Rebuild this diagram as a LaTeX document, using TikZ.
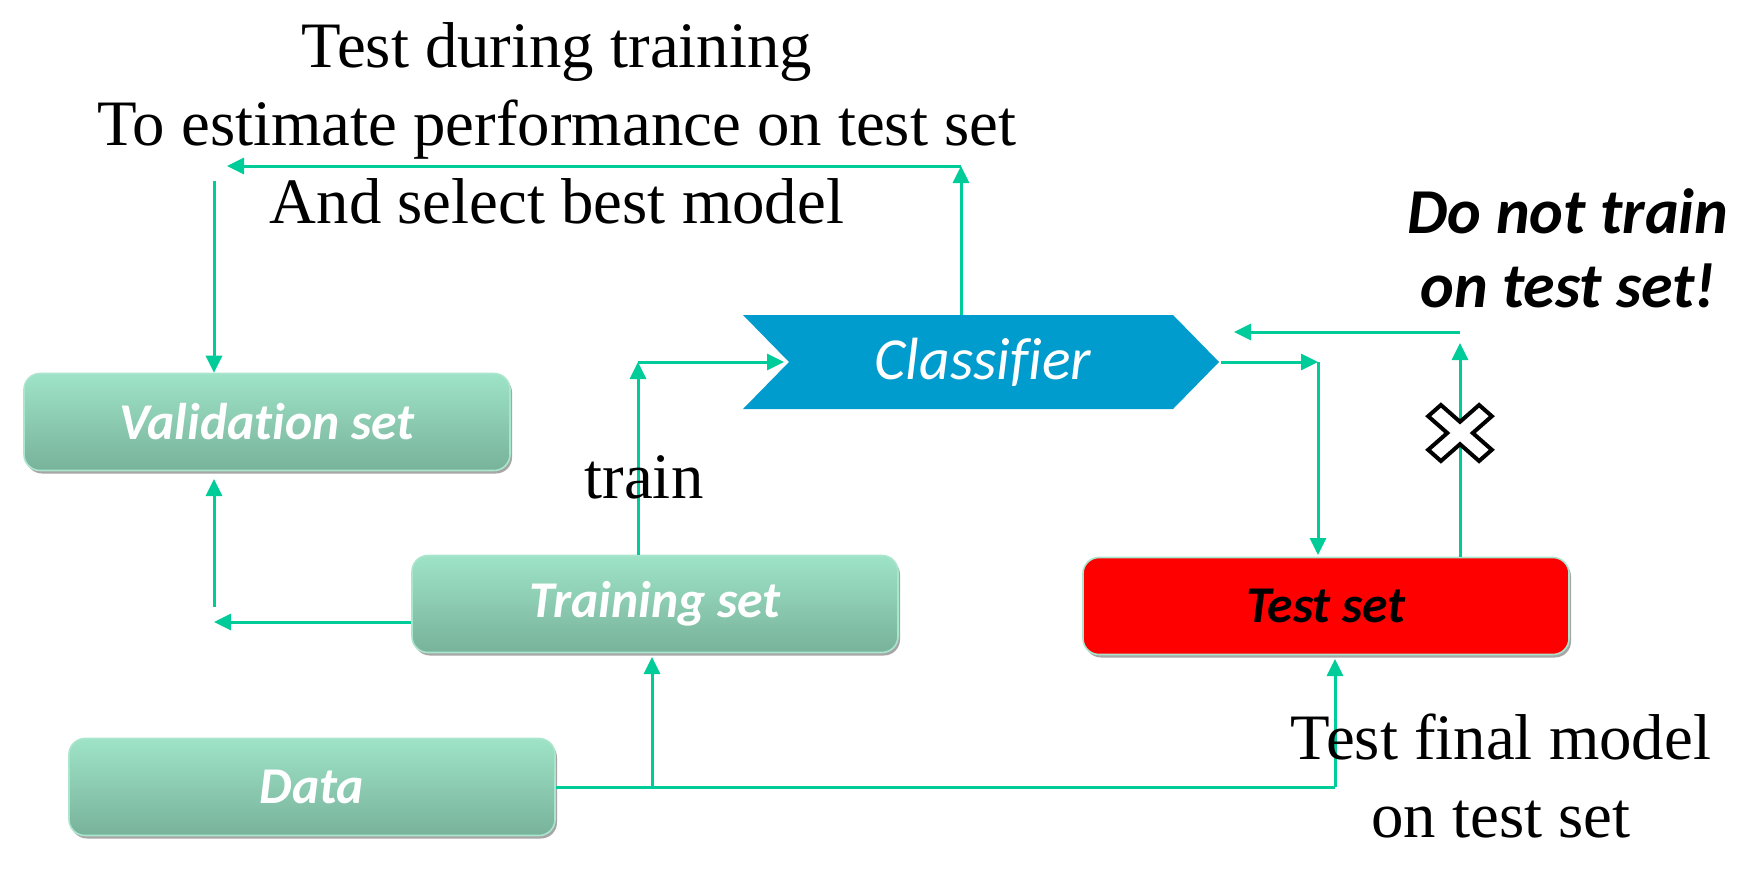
\documentclass[tikz,border=0pt]{standalone}
\usepackage{fontspec}
\setmainfont{Liberation Serif}
\newfontfamily\carlito[Ligatures=NoCommon]{Carlito}
\usetikzlibrary{arrows.meta,shadows}
\definecolor{arrowc}{RGB}{0,204,153}
\definecolor{minttop}{RGB}{158,227,199}
\definecolor{mintbot}{RGB}{120,178,155}
\definecolor{mintedge}{RGB}{170,230,205}
\definecolor{clsblue}{RGB}{0,156,206}
\tikzset{
  arr/.style={draw=arrowc, line width=1.5pt, -{Triangle[length=8.5pt,width=8pt]}},
  ln/.style={draw=arrowc, line width=1.5pt},
  setbox/.style={rounded corners=8pt, minimum width=243pt, minimum height=48.5pt, inner sep=0pt,
    draw=mintedge, line width=0.8pt,
    drop shadow={shadow xshift=1pt, shadow yshift=-1.5pt, opacity=0.35, fill=black},
    font=\carlito\bfseries\itshape\fontsize{25.8}{30}\selectfont, text=white},
  mint/.style={top color=minttop, bottom color=mintbot},
  bigtext/.style={font=\fontsize{32.4}{39}\selectfont, align=center, inner sep=0pt},
  warntext/.style={font=\carlito\bfseries\itshape\fontsize{32}{37}\selectfont, align=center, inner sep=0pt},
}
\begin{document}
\begin{tikzpicture}[x=0.5pt,y=-0.5pt]
\useasboundingbox (0,0) rectangle (1740,894);

% boxes
\node[setbox, mint] (val) at (267,422) {Validation set};
\node[setbox, mint] (trn) at (655,604) {Training set};
\node[setbox, fill=red, text=black] (tst) at (1326,606) {Test set};
\node[setbox, mint] (dat) at (312,787) {Data};

% classifier chevron
\path[fill=clsblue] (743,315) -- (1173,315) -- (1219,362) -- (1173,409) -- (743,409) -- (789,362) -- cycle;
\node[minimum width=238pt, minimum height=47pt, inner sep=0pt, text=white,
  font=\carlito\itshape\fontsize{29.8}{34}\selectfont] (cls) at (983,362) {Classifier};

% coordinates
\coordinate (vtop) at (961,166);
\coordinate (vleft) at (227,166);
\coordinate (vdown) at (214,181);
\coordinate (tl) at (214,622);
\coordinate (tu) at (214,607);
\coordinate (vbot) at (214,479);
\coordinate (tc) at (638,362);
\coordinate (notch) at (784,362);
\coordinate (ct) at (1318,362);
\coordinate (ctb) at (1318,555);
\coordinate (xu) at (1460,343);
\coordinate (xr) at (1460,332);
\coordinate (xl) at (1234,332);
\coordinate (d1) at (652,787);
\coordinate (d1t) at (652,657);
\coordinate (d2) at (1335,787);
\coordinate (d2t) at (1335,659);

% connectors
\draw[arr] (cls.north -| vtop) -- (vtop);
\draw[arr] (vtop) -- (vleft);
\draw[arr] (vdown) -- (vdown |- val.north);
\draw[arr] (trn.west |- tl) -- (tl);
\draw[arr] (tu) -- (vbot);
\draw[arr] (trn.north -| tc) -- (tc);
\draw[arr] (tc) -- (notch);
\draw[arr] (1221,362) -- (ct);
\draw[arr] (ct) -- (ctb);
\draw[arr] (tst.north -| xu) -- (xu);
\draw[arr] (xr) -- (xl);
\draw[ln] (dat.east) -- (d2);
\draw[arr] (d1) -- (d1t);
\draw[arr] (d2) -- (d2t);

% cross mark
\draw[line width=2pt, line join=miter, fill=white, shift={(1460,433)}, yscale=0.88, rotate=45]
  (9,36) -- (9,9) -- (36,9) -- (36,-9) -- (9,-9) -- (9,-36) -- (-9,-36) -- (-9,-9)
  -- (-36,-9) -- (-36,9) -- (-9,9) -- (-9,36) -- cycle;

% texts
\node[bigtext] (t1) at (557,123) {Test during training\\To estimate performance on test set\\And select best model};
\node[bigtext] (t2) at (644,477) {train};
\node[bigtext] (t3) at (1501,776) {Test final model\\on test set};
\node[warntext] (t4) at (1568,248) {Do not train\\on test set!};
\end{tikzpicture}
\end{document}
